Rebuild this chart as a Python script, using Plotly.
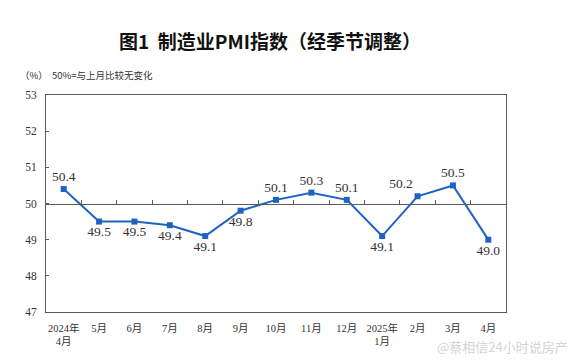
import plotly.graph_objects as go

categories = ["2024年<br>4月", "5月", "6月", "7月", "8月", "9月", "10月", "11月", "12月",
              "2025年<br>1月", "2月", "3月", "4月"]
pmi = [50.4, 49.5, 49.5, 49.4, 49.1, 49.8, 50.1, 50.3, 50.1, 49.1, 50.2, 50.5, 49.0]
label_pos = ["top center", "bottom center", "bottom center", "bottom center", "bottom center",
             "bottom center", "top center", "top center", "top center", "bottom center",
             "top left", "top center", "bottom center"]
y_ticks = [47, 48, 49, 50, 51, 52, 53]

idx = list(range(len(categories)))
boundaries = [i + 0.5 for i in range(len(categories) - 1)]

BLUE = "#1f63c2"
AX = "#5a5a5a"
SERIF = "Liberation Serif, Noto Sans CJK SC, serif"

fig = go.Figure()
fig.add_trace(go.Scatter(
    x=idx, y=pmi, mode="lines+markers+text",
    line=dict(color=BLUE, width=2),
    marker=dict(symbol="square", size=6, color=BLUE),
    text=[f"{v:.1f}" for v in pmi], textposition=label_pos,
    textfont=dict(family=SERIF, size=13.5, color="#333333"),
    cliponaxis=False, showlegend=False, hoverinfo="skip",
))
# invisible trace to carry the 50-line axis
fig.add_trace(go.Scatter(x=[idx[0]], y=[50], xaxis="x2", mode="markers",
                         marker=dict(opacity=0), showlegend=False, hoverinfo="skip"))

fig.update_layout(
    width=575, height=363,
    margin=dict(l=46, r=69, t=95, b=51),
    paper_bgcolor="white", plot_bgcolor="white",
    xaxis=dict(range=[-0.5, len(categories) - 0.5], tickvals=idx, ticktext=categories,
               showline=True, linecolor=AX, linewidth=1, mirror=True,
               ticks="", showgrid=False, zeroline=False, ticklabelstandoff=6,
               tickfont=dict(family=SERIF, size=10.5, color="#333333")),
    xaxis2=dict(overlaying="x", matches="x", anchor="free", position=0.5, side="bottom",
                range=[-0.5, len(categories) - 0.5],
                tickvals=boundaries, showticklabels=False, ticks="inside",
                ticklen=4, tickcolor=AX, showline=True, linecolor=AX, linewidth=1,
                showgrid=False, zeroline=False),
    yaxis=dict(range=[47, 53], tickvals=y_ticks, showline=True, linecolor=AX, linewidth=1,
               mirror=True, ticks="inside", ticklen=3, tickcolor=AX, showgrid=False,
               zeroline=False, ticklabelstandoff=6,
               tickfont=dict(family=SERIF, size=11.5, color="#333333")),
    font=dict(family=SERIF),
)

fig.add_annotation(text="<b>图1  制造业PMI指数（经季节调整）</b>", xref="paper", yref="paper",
                   x=(270 - 46) / 460, y=1 + (95 - 41) / 217, showarrow=False,
                   font=dict(family="Noto Sans CJK SC", size=19, color="#111111"),
                   xanchor="center", yanchor="middle")
fig.add_annotation(text="（%）  50%=与上月比较无变化", xref="paper", yref="paper",
                   x=(18 - 46) / 460, y=1 + (95 - 75) / 217, showarrow=False,
                   font=dict(family="Noto Sans CJK SC", size=9.5, color="#333333"),
                   xanchor="left", yanchor="middle")
fig.add_annotation(text="@蔡相信24小时说房产", xref="paper", yref="paper",
                   x=(570 - 46) / 460, y=-(346 - 312) / 217, showarrow=False,
                   font=dict(family="Noto Sans CJK SC", size=13, color="#d4d4d4"),
                   xanchor="right", yanchor="middle")

fig.write_html("out.html", config={"displayModeBar": False},
               post_script="document.body.style.margin='0';document.body.style.overflow='hidden';")
